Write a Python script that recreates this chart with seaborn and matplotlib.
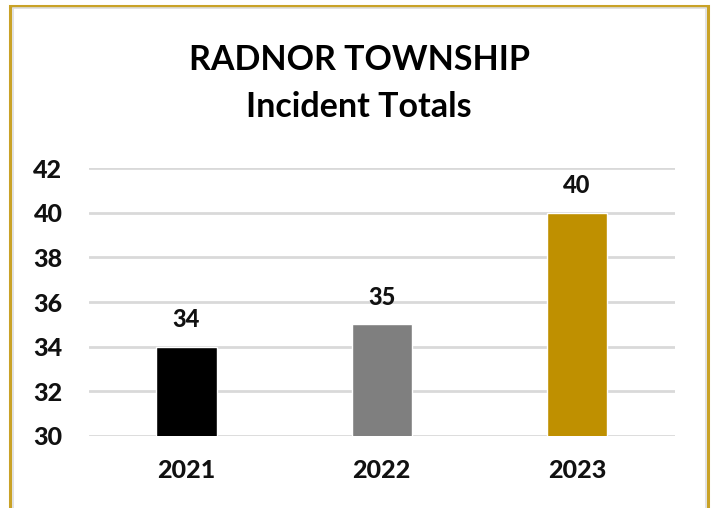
import matplotlib
matplotlib.use("Agg")
import matplotlib.pyplot as plt
import seaborn as sns
import pandas as pd
from matplotlib.patches import Rectangle

# Chart data
years = ['2021', '2022', '2023']
incidents = [34, 35, 40]
bar_colors = ['#000000', '#7F7F7F', '#BF9000']
y_ticks = [30, 32, 34, 36, 38, 40, 42]

sns.set_theme(style="white")
plt.rcParams['font.family'] = ['Lato', 'DejaVu Sans']

df = pd.DataFrame({'Year': years, 'Incidents': incidents})

fig = plt.figure(figsize=(7.11, 5.08), dpi=100)
ax = fig.add_axes([0.125, 0.142, 0.824, 0.527])

sns.barplot(data=df, x='Year', y='Incidents', hue='Year', palette=bar_colors,
            saturation=1, width=0.31, legend=False, ax=ax, zorder=3)

ax.set_ylim(30, 42)
ax.set_yticks(y_ticks)
ax.yaxis.grid(True, color='#D9D9D9', linewidth=2, zorder=0)
ax.set_axisbelow(True)
for side in ['top', 'right', 'left', 'bottom']:
    ax.spines[side].set_visible(False)

ax.set_xlabel('')
ax.set_ylabel('')
ax.tick_params(axis='y', length=0, pad=19, labelsize=18)
ax.tick_params(axis='x', length=0, pad=17, labelsize=18)
for lbl in ax.get_xticklabels() + ax.get_yticklabels():
    lbl.set_fontweight('black')
    lbl.set_color('#111111')

# Value labels above bars
for container in ax.containers:
    ax.bar_label(container, labels=[f'{int(v)}' for v in container.datavalues],
                 fontsize=17, fontweight='black', padding=11, color='#111111')

# Title
fig.text(0.505, 0.882, 'RADNOR TOWNSHIP', ha='center', va='center',
         fontsize=24.5, fontweight='bold', color='#000000')
fig.text(0.505, 0.790, 'Incident Totals', ha='center', va='center',
         fontsize=24.5, fontweight='bold', color='#000000')

# Frame border around chart area
W, H = 711, 508
fig.patches.append(Rectangle((10 / W, -0.05), 698 / W, (H - 6) / H + 0.05,
                             transform=fig.transFigure, fill=False,
                             edgecolor='#C9A227', linewidth=2.2))
fig.patches.append(Rectangle((12.5 / W, -0.05), 693 / W, (H - 8.5) / H + 0.05,
                             transform=fig.transFigure, fill=False,
                             edgecolor='#DDDDDD', linewidth=1.2))

fig.savefig('out.png', dpi=100)
plt.close(fig)
